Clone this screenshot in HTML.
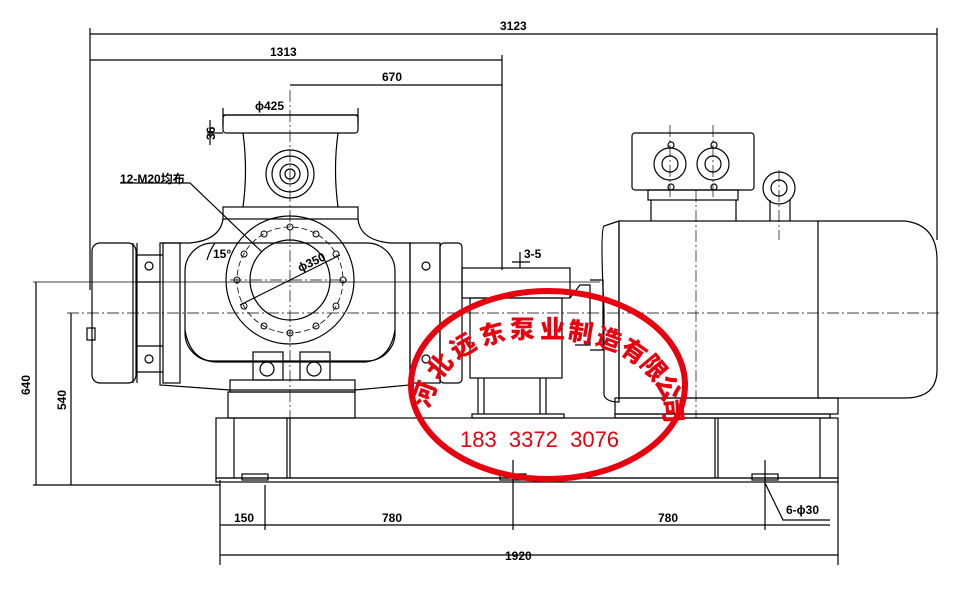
<!DOCTYPE html>
<html><head><meta charset="utf-8"><style>
html,body{margin:0;padding:0;background:#fff}
svg{display:block}
text{font-family:"Liberation Sans","Noto Sans CJK SC",sans-serif;font-size:12px;font-weight:bold}
.st{font-size:25px;font-weight:900;fill:#e8000f}
.ph{font-size:22px;font-weight:normal;fill:#e8000f;white-space:pre}
</style></head><body>
<svg width="969" height="599" viewBox="0 0 969 599" xmlns="http://www.w3.org/2000/svg">
<g fill="none" stroke="#000" stroke-width="1.2">
<line x1="90" y1="34" x2="937" y2="34"/>
<line x1="90" y1="60" x2="502" y2="60"/>
<line x1="290" y1="85" x2="502" y2="85"/>
<line x1="90" y1="28" x2="90" y2="290"/>
<line x1="937" y1="28" x2="937" y2="240"/>
<line x1="502" y1="55" x2="502" y2="270"/>
<line x1="223" y1="115" x2="358" y2="115"/>
<line x1="223" y1="108" x2="223" y2="125"/><line x1="358" y1="108" x2="358" y2="125"/>
<line x1="210" y1="120" x2="210" y2="145"/>
<line x1="207" y1="133" x2="223" y2="133"/>
<rect x="223" y="115" width="135" height="18" rx="3"/>
<path d="M243 133 Q248 170 243 207 M338 133 Q333 170 338 207"/>
<rect x="223" y="207" width="135" height="12"/>
<circle cx="290" cy="174" r="24"/><circle cx="290" cy="174" r="18"/><circle cx="290" cy="174" r="10"/><circle cx="290" cy="174" r="5"/>
<path d="M223 219 Q220 240 190 243 L160 243 L160 385 L230 390 L355 390 L410 385 L410 243 L390 243 Q360 240 358 219"/>
<rect x="185" y="243" width="210" height="118" rx="28"/>
<path d="M185 330 Q190 360 215 362 L365 362 Q390 360 395 330"/>
<circle cx="290" cy="280" r="64"/><circle cx="290" cy="280" r="40"/>
<circle cx="290" cy="280" r="53" stroke-dasharray="6 3" stroke-width="0.8"/>
<g stroke-width="1">
<circle cx="316" cy="234" r="3"/><circle cx="336" cy="254" r="3"/><circle cx="343" cy="280" r="3"/><circle cx="336" cy="306" r="3"/><circle cx="316" cy="326" r="3"/><circle cx="290" cy="333" r="3"/><circle cx="264" cy="326" r="3"/><circle cx="244" cy="306" r="3"/><circle cx="237" cy="280" r="3"/><circle cx="244" cy="254" r="3"/><circle cx="264" cy="234" r="3"/><circle cx="290" cy="227" r="3"/>
</g>
<line x1="240" y1="305" x2="340" y2="255"/>
<path d="M120 183 L190 183 L262 252"/>
<path d="M207 260 Q210 250 215 243"/>
<rect x="92" y="243" width="44" height="140" rx="8"/>
<line x1="133" y1="243" x2="133" y2="383"/><line x1="137" y1="243" x2="137" y2="383"/>
<path d="M137 255 L163 255 M137 282 L160 282 M137 346 L163 346 M137 372 L163 372"/>
<rect x="163" y="243" width="17" height="140"/>
<circle cx="149" cy="266" r="4"/><circle cx="149" cy="359" r="4"/>
<rect x="87" y="328" width="8" height="12"/>
<rect x="410" y="243" width="30" height="140"/>
<rect x="440" y="243" width="22" height="140" rx="4"/>
<circle cx="426" cy="266" r="4"/><circle cx="426" cy="359" r="4"/>
<rect x="253" y="352" width="30" height="28"/><rect x="300" y="352" width="30" height="28"/>
<circle cx="267" cy="369" r="7"/><circle cx="314" cy="369" r="7"/>
<rect x="230" y="380" width="125" height="12"/><rect x="228" y="392" width="127" height="26"/>
<rect x="462" y="268" width="108" height="30"/>
<rect x="470" y="298" width="92" height="80"/>
<path d="M478 378 L478 414 M484 378 L484 414 M540 378 L540 414 M546 378 L546 414"/>
<rect x="472" y="414" width="92" height="4"/>
<path d="M570 298 L580 285 L590 285 L590 345 L575 345"/>
<path d="M590 280 L603 280 L603 350 L590 350"/>
<path d="M619 221 L604 226 Q600 230 604 310 L604 395 Q606 402 619 402 Z"/>
<rect x="619" y="221" width="199" height="177"/>
<path d="M818 221 L905 221 Q937 225 937 260 L937 370 Q937 398 905 398 L818 398"/>
<rect x="632" y="133" width="122" height="57" rx="3"/>
<rect x="648" y="190" width="90" height="10"/>
<path d="M651 200 L651 221 M736 200 L736 221"/>
<circle cx="670" cy="164" r="16"/><circle cx="713" cy="164" r="16"/>
<circle cx="670" cy="164" r="8"/><circle cx="713" cy="164" r="8"/>
<circle cx="671" cy="145" r="3"/><circle cx="714" cy="145" r="3"/><circle cx="671" cy="187" r="3"/><circle cx="714" cy="187" r="3"/>
<circle cx="779" cy="188" r="16"/><circle cx="779" cy="188" r="8"/>
<path d="M770 200 L770 221 M790 200 L790 221"/>
<rect x="615" y="398" width="223" height="16"/>
<rect x="615" y="414" width="215" height="4"/>
<rect x="216" y="418" width="622" height="60"/>
<rect x="216" y="478" width="622" height="4"/>
<path d="M234 418 L234 478 M287 418 L287 478 M290 418 L290 478 M715 418 L715 478 M718 418 L718 478 M820 418 L820 478"/>
<rect x="242" y="474" width="26" height="6"/><rect x="500" y="474" width="26" height="6"/><rect x="752" y="474" width="26" height="6"/>
<line x1="33" y1="282" x2="600" y2="282" stroke-width="0.8"/>
<line x1="67" y1="313" x2="940" y2="313" stroke-width="0.8" stroke-dasharray="12 3 2 3"/>
<line x1="33" y1="485" x2="220" y2="485"/>
<line x1="36" y1="282" x2="36" y2="485"/>
<line x1="71" y1="313" x2="71" y2="485"/>
<line x1="220" y1="480" x2="220" y2="565"/><line x1="838" y1="480" x2="838" y2="565"/>
<line x1="265" y1="485" x2="265" y2="530"/><line x1="513" y1="460" x2="513" y2="530"/><line x1="765" y1="460" x2="765" y2="530"/>
<line x1="220" y1="525" x2="830" y2="525"/>
<line x1="220" y1="555" x2="838" y2="555"/>
<path d="M765 483 L783 520 L830 520"/>
<g stroke-width="0.7" stroke-dasharray="12 3 2 3">
<line x1="290" y1="90" x2="290" y2="420"/>
<line x1="670" y1="125" x2="670" y2="200"/><line x1="713" y1="125" x2="713" y2="200"/>
<line x1="696" y1="190" x2="696" y2="418"/><line x1="779" y1="170" x2="779" y2="240"/>
<line x1="230" y1="280" x2="350" y2="280"/>
</g>
<path d="M520 252 L520 268 M512 262 L530 262"/>
</g>
<g fill="#000">
<text x="500" y="30">3123</text>
<text x="270" y="56">1313</text>
<text x="382" y="81">670</text>
<text x="255" y="110">ϕ425</text>
<text x="120" y="183">12-M20均布</text>
<text x="213" y="258" font-weight="normal">15°</text>
<text x="300" y="272" transform="rotate(-25 300 272)">ϕ350</text>
<text x="524" y="258">3-5</text>
<text x="30" y="395" transform="rotate(-90 30 395)">640</text>
<text x="66" y="410" transform="rotate(-90 66 410)">540</text>
<text x="215" y="140" transform="rotate(-90 215 140)">36</text>
<text x="234" y="522">150</text>
<text x="382" y="522">780</text>
<text x="658" y="522">780</text>
<text x="505" y="560">1920</text>
<text x="786" y="514">6-ϕ30</text>
</g>
<ellipse cx="548" cy="385" rx="137" ry="94" fill="none" stroke="#e8000f" stroke-width="6"/>
<g>
<text class="st" x="413" y="403" transform="rotate(-70 425 395)">河</text>
<text class="st" x="428" y="375" transform="rotate(-50 440 367)">北</text>
<text class="st" x="451" y="355" transform="rotate(-30 463 347)">远</text>
<text class="st" x="480" y="343" transform="rotate(-15 492 335)">东</text>
<text class="st" x="510" y="338">泵</text>
<text class="st" x="540" y="338">业</text>
<text class="st" x="568" y="341" transform="rotate(10 580 333)">制</text>
<text class="st" x="596" y="348" transform="rotate(20 608 340)">造</text>
<text class="st" x="621" y="360" transform="rotate(35 633 352)">有</text>
<text class="st" x="641" y="376" transform="rotate(50 653 368)">限</text>
<text class="st" x="655" y="396" transform="rotate(65 667 388)">公</text>
<text class="st" x="660" y="418" transform="rotate(85 672 410)">司</text>
<text class="ph" x="460" y="447">183  3372  3076</text>
</g>
</svg>
</body></html>
